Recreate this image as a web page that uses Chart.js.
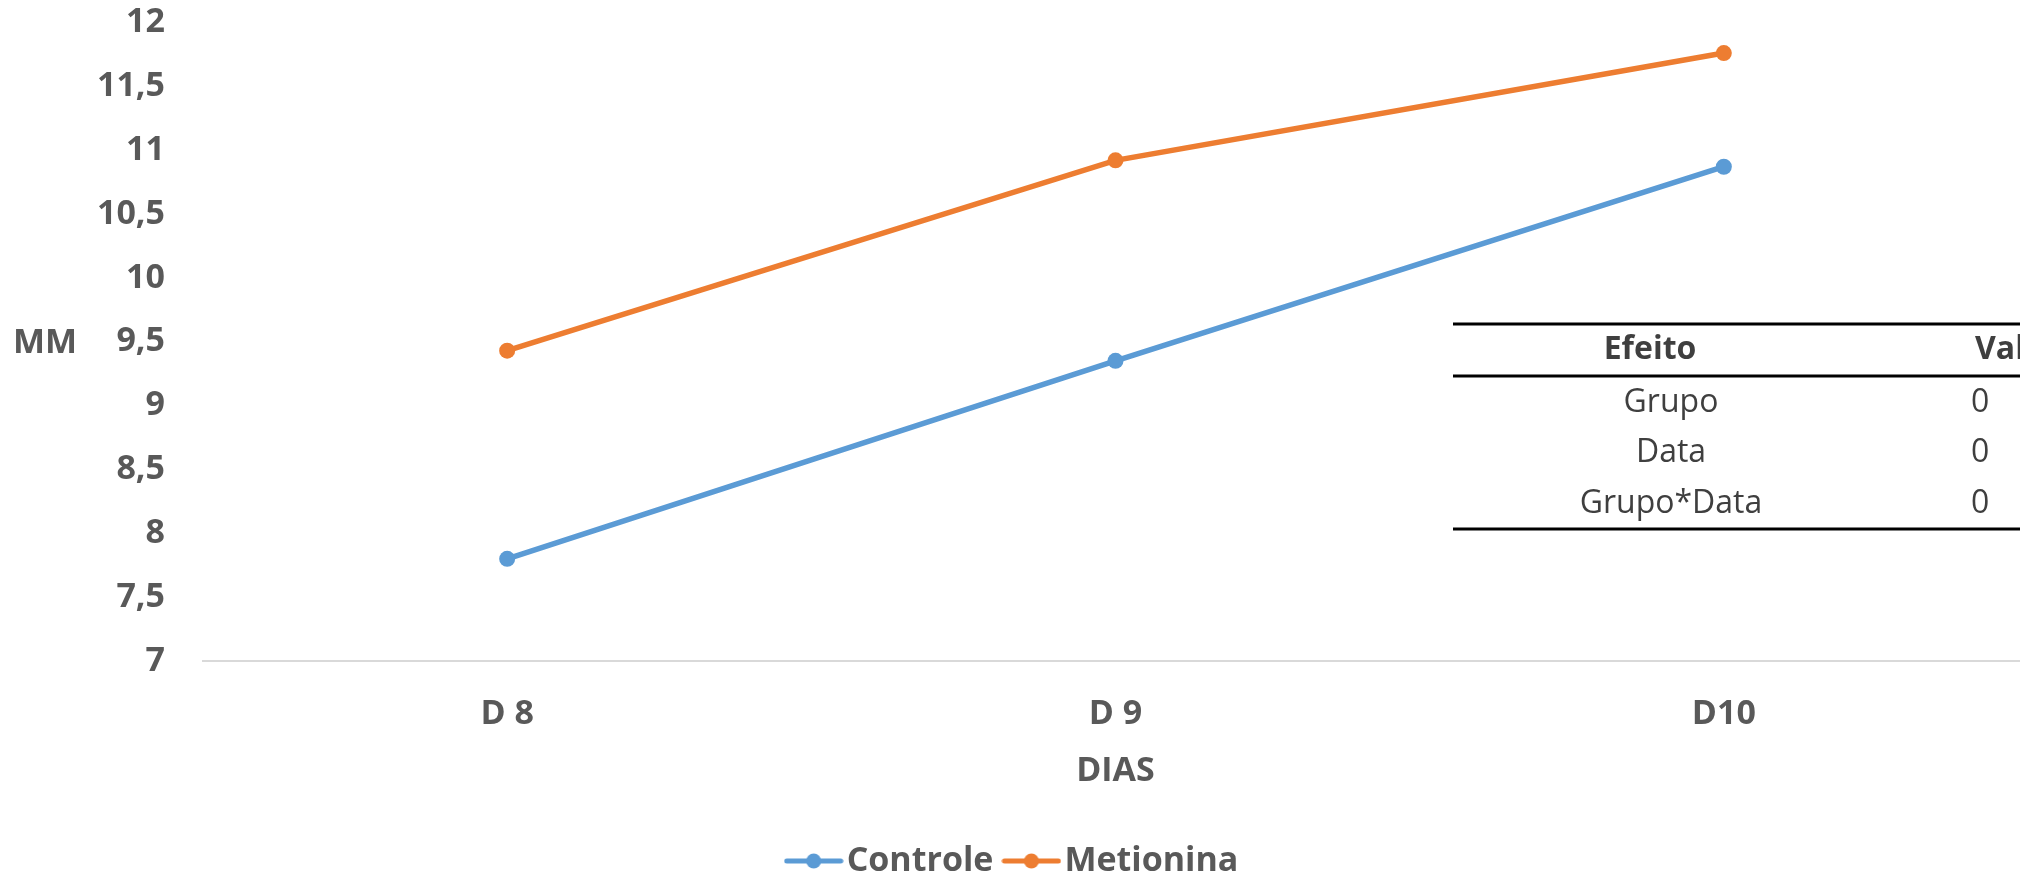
<!DOCTYPE html>
<html>
<head>
<meta charset="utf-8">
<script src="https://cdn.jsdelivr.net/npm/chart.js@4/dist/chart.umd.min.js"></script>
<style>
html,body{margin:0;padding:0;overflow:hidden;background:#fff;width:2020px;height:879px}
canvas{display:block}
</style>
</head>
<body>
<canvas id="c" width="2036" height="879"></canvas>
<script>
// ---- data ----
const categories = ['D 8', 'D 9', 'D10'];
const controle = [7.80, 9.35, 10.87];
const metionina = [9.43, 10.92, 11.76];
const yMin = 7, yMax = 12, yStep = 0.5;
const yAxisTitle = 'MM';
const xAxisTitle = 'DIAS';
const tableHeader = ['Efeito', 'Valor p'];
const tableEffects = ['Grupo', 'Data', 'Grupo*Data'];
const tableValues = ['0', '0', '0'];

const BLUE = '#5B9BD5', ORANGE = '#ED7D31', TXT = '#595959';
const FONT = '"Open Sans", "Liberation Sans", sans-serif';

function legendIcon(color) {
  const c = document.createElement('canvas');
  c.width = 60; c.height = 18;
  const x = c.getContext('2d');
  x.strokeStyle = color; x.lineWidth = 5; x.lineCap = 'round';
  x.beginPath(); x.moveTo(3, 9); x.lineTo(57, 9); x.stroke();
  x.fillStyle = color;
  x.beginPath(); x.arc(30, 9, 7.5, 0, Math.PI * 2); x.fill();
  return c;
}
const icons = [legendIcon(BLUE), legendIcon(ORANGE)];

const extras = {
  id: 'extras',
  afterDraw(chart) {
    const ctx = chart.ctx;
    const ys = chart.scales.y;
    ctx.save();
    // y axis title (horizontal)
    ctx.fillStyle = TXT;
    ctx.font = 'bold 34px ' + FONT;
    ctx.textAlign = 'center';
    ctx.textBaseline = 'middle';
    ctx.fillText(yAxisTitle, 45, ys.getPixelForValue(9.5) + 2);

    // statistics table
    const left = 1453, right = 2040;
    ctx.strokeStyle = '#000';
    ctx.lineWidth = 3;
    [324, 376, 529].forEach(y => {
      ctx.beginPath(); ctx.moveTo(left, y); ctx.lineTo(right, y); ctx.stroke();
    });
    ctx.fillStyle = '#3F3F3F';
    ctx.font = 'bold 32px ' + FONT;
    ctx.textAlign = 'center';
    ctx.fillText(tableHeader[0], 1650, 350);
    ctx.textAlign = 'left';
    ctx.fillText(tableHeader[1], 1975, 350);
    ctx.font = '32px ' + FONT;
    const rowY = [403, 453, 504];
    tableEffects.forEach((t, i) => {
      ctx.textAlign = 'center';
      ctx.fillText(t, 1671, rowY[i]);
      ctx.textAlign = 'left';
      ctx.fillText(tableValues[i], 1971, rowY[i]);
    });
    ctx.restore();
  }
};

new Chart(document.getElementById('c'), {
  type: 'line',
  data: {
    labels: categories,
    datasets: [
      { label: 'Controle', data: controle, borderColor: BLUE, backgroundColor: BLUE,
        borderWidth: 5.5, pointRadius: 8, pointHoverRadius: 8, pointBorderWidth: 0, tension: 0 },
      { label: 'Metionina', data: metionina, borderColor: ORANGE, backgroundColor: ORANGE,
        borderWidth: 5.5, pointRadius: 8, pointHoverRadius: 8, pointBorderWidth: 0, tension: 0 }
    ]
  },
  options: {
    responsive: false,
    animation: false,
    layout: { padding: { top: 22, bottom: -9, left: 0, right: 0 } },
    scales: {
      x: {
        offset: true,
        grid: { display: false, drawTicks: false, offset: true },
        border: { display: true, color: '#D9D9D9', width: 2 },
        ticks: { color: TXT, font: { family: FONT, size: 34, weight: 'bold' }, padding: 33 },
        title: { display: true, text: xAxisTitle, color: TXT,
                 font: { family: FONT, size: 34, weight: 'bold' }, padding: { top: 0, bottom: 30 } },
        afterFit(s) { s.height = 161; }
      },
      y: {
        min: yMin, max: yMax,
        grid: { display: true, drawOnChartArea: false, drawTicks: true, tickLength: 36, tickColor: 'rgba(0,0,0,0)' },
        border: { display: false },
        ticks: { stepSize: yStep, color: TXT, padding: 2,
                 font: { family: FONT, size: 34, weight: 'bold' },
                 callback: v => String(v).replace('.', ',') },
        afterFit(s) { s.width = 203; }
      }
    },
    plugins: {
      tooltip: { enabled: false },
      legend: {
        position: 'bottom',
        labels: {
          color: TXT,
          font: { family: FONT, size: 34, weight: 'bold' },
          usePointStyle: true,
          pointStyleWidth: 32,
          padding: 22,
          generateLabels(chart) {
            const items = Chart.defaults.plugins.legend.labels.generateLabels(chart);
            items.forEach((it, i) => { it.pointStyle = icons[i]; });
            return items;
          }
        }
      }
    }
  },
  plugins: [extras]
});
</script>
</body>
</html>
